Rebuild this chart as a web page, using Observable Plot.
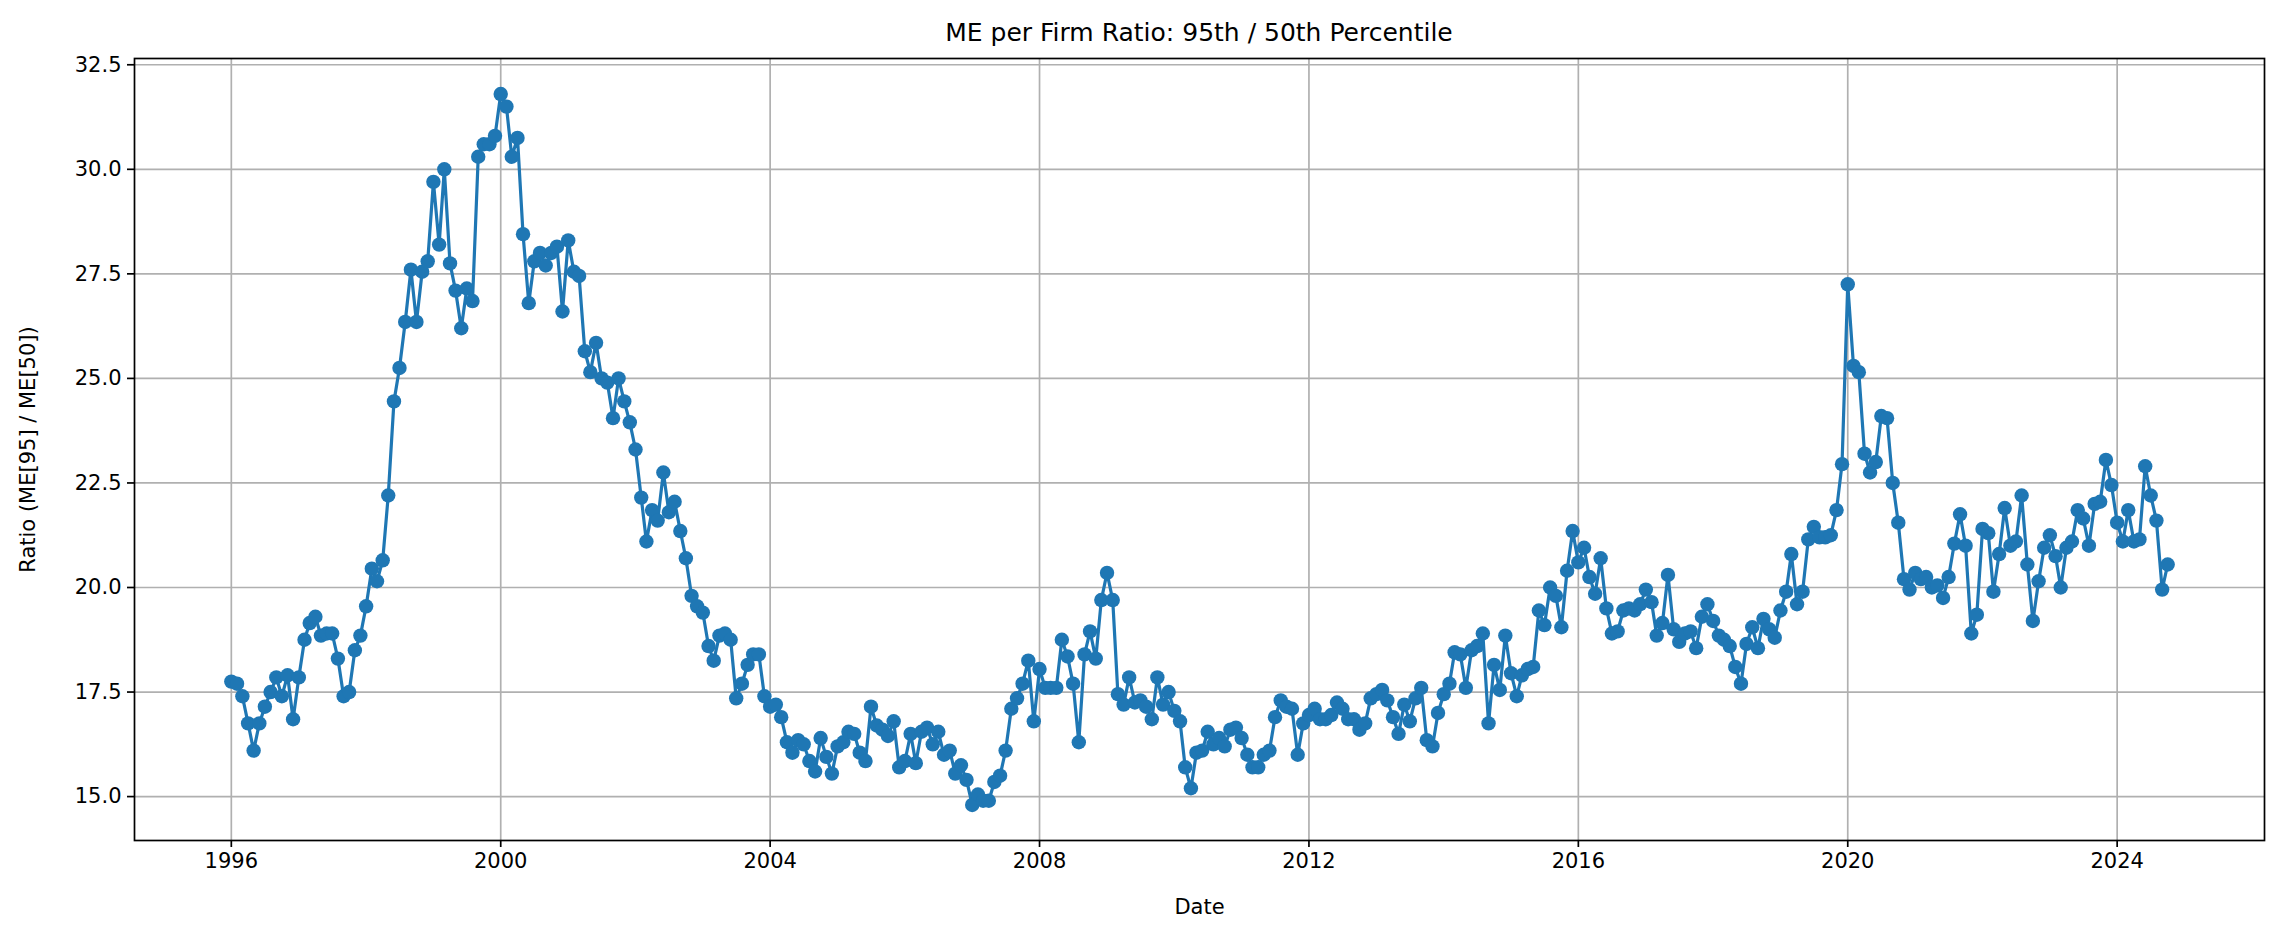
<!DOCTYPE html>
<html><head><meta charset="utf-8">
<script src="https://cdn.jsdelivr.net/npm/d3@7"></script>
<script src="https://cdn.jsdelivr.net/npm/@observablehq/plot@0.6"></script>
<style>
body{margin:0;background:#fff;font-family:"DejaVu Sans",sans-serif;}
#title{width:2284px;height:46px;box-sizing:border-box;padding:20px 20px 0 134px;text-align:center;font-size:25px;line-height:25px;color:#000;}
#chart svg{display:block;}
</style></head><body>
<div id="title">ME per Firm Ratio: 95th / 50th Percentile</div>
<div id="chart"></div>
<script>
const title = "ME per Firm Ratio: 95th / 50th Percentile";
const xLabel = "Date";
const yLabel = "Ratio (ME[95] / ME[50])";
const firstYear = 1996;
const xTickYears = [1996, 2000, 2004, 2008, 2012, 2016, 2020, 2024];
const yTicks = [15.0, 17.5, 20.0, 22.5, 25.0, 27.5, 30.0, 32.5];

const r1996 = [17.75, 17.7, 17.4, 16.75, 16.1, 16.75, 17.15, 17.5, 17.85, 17.4, 17.9, 16.85];
const r1997 = [17.85, 18.75, 19.15, 19.3, 18.85, 18.9, 18.9, 18.3, 17.4, 17.5, 18.5, 18.85];
const r1998 = [19.55, 20.45, 20.15, 20.65, 22.2, 24.45, 25.25, 26.35, 27.6, 26.35, 27.55, 27.8];
const r1999 = [29.7, 28.2, 30.0, 27.75, 27.1, 26.2, 27.15, 26.85, 30.3, 30.6, 30.6, 30.8];
const r2000 = [31.8, 31.5, 30.3, 30.75, 28.45, 26.8, 27.8, 28.0, 27.7, 28.0, 28.15, 26.6];
const r2001 = [28.3, 27.55, 27.45, 25.65, 25.15, 25.85, 25.0, 24.9, 24.05, 25.0, 24.45, 23.95];
const r2002 = [23.3, 22.15, 21.1, 21.85, 21.6, 22.75, 21.8, 22.05, 21.35, 20.7, 19.8, 19.55];
const r2003 = [19.4, 18.6, 18.25, 18.85, 18.9, 18.75, 17.35, 17.7, 18.15, 18.4, 18.4, 17.4];
const r2004 = [17.15, 17.2, 16.9, 16.3, 16.05, 16.35, 16.25, 15.85, 15.6, 16.4, 15.95, 15.55];
const r2005 = [16.2, 16.3, 16.55, 16.5, 16.05, 15.85, 17.15, 16.7, 16.6, 16.45, 16.8, 15.7];
const r2006 = [15.85, 16.5, 15.8, 16.55, 16.65, 16.25, 16.55, 16.0, 16.1, 15.55, 15.75, 15.4];
const r2007 = [14.8, 15.05, 14.9, 14.9, 15.35, 15.5, 16.1, 17.1, 17.35, 17.7, 18.25, 16.8];
const r2008 = [18.05, 17.6, 17.6, 17.6, 18.75, 18.35, 17.7, 16.3, 18.4, 18.95, 18.3, 19.7];
const r2009 = [20.35, 19.7, 17.45, 17.2, 17.85, 17.25, 17.3, 17.15, 16.85, 17.85, 17.2, 17.5];
const r2010 = [17.05, 16.8, 15.7, 15.2, 16.05, 16.1, 16.55, 16.25, 16.4, 16.2, 16.6, 16.65];
const r2011 = [16.4, 16.0, 15.7, 15.7, 16.0, 16.1, 16.9, 17.3, 17.15, 17.1, 16.0, 16.75];
const r2012 = [16.95, 17.1, 16.85, 16.85, 16.95, 17.25, 17.1, 16.85, 16.85, 16.6, 16.75, 17.35];
const r2013 = [17.45, 17.55, 17.3, 16.9, 16.5, 17.2, 16.8, 17.35, 17.6, 16.35, 16.2, 17.0];
const r2014 = [17.45, 17.7, 18.45, 18.4, 17.6, 18.5, 18.6, 18.9, 16.75, 18.15, 17.55, 18.85];
const r2015 = [17.95, 17.4, 17.9, 18.05, 18.1, 19.45, 19.1, 20.0, 19.8, 19.05, 20.4, 21.35];
const r2016 = [20.6, 20.95, 20.25, 19.85, 20.7, 19.5, 18.9, 18.95, 19.45, 19.5, 19.45, 19.6];
const r2017 = [19.95, 19.65, 18.85, 19.15, 20.3, 19.0, 18.7, 18.9, 18.95, 18.55, 19.3, 19.6];
const r2018 = [19.2, 18.85, 18.75, 18.6, 18.1, 17.7, 18.65, 19.05, 18.55, 19.25, 19.0, 18.8];
const r2019 = [19.45, 19.9, 20.8, 19.6, 19.9, 21.15, 21.45, 21.2, 21.2, 21.25, 21.85, 22.95];
const r2020 = [27.25, 25.3, 25.15, 23.2, 22.75, 23.0, 24.1, 24.05, 22.5, 21.55, 20.2, 19.95];
const r2021 = [20.35, 20.2, 20.25, 20.0, 20.05, 19.75, 20.25, 21.05, 21.75, 21.0, 18.9, 19.35];
const r2022 = [21.4, 21.3, 19.9, 20.8, 21.9, 21.0, 21.1, 22.2, 20.55, 19.2, 20.15, 20.95];
const r2023 = [21.25, 20.75, 20.0, 20.95, 21.1, 21.85, 21.65, 21.0, 22.0, 22.05, 23.05, 22.45];
const r2024 = [21.55, 21.1, 21.85, 21.1, 21.15, 22.9, 22.2, 21.6, 19.95, 20.55];

const years = [r1996, r1997, r1998, r1999, r2000, r2001, r2002, r2003, r2004, r2005,
  r2006, r2007, r2008, r2009, r2010, r2011, r2012, r2013, r2014, r2015,
  r2016, r2017, r2018, r2019, r2020, r2021, r2022, r2023, r2024];

const data = [];
years.forEach((vals, i) => vals.forEach((v, m) => data.push({date: new Date(Date.UTC(firstYear + i, m, 1)), ratio: v})));

const t0 = +data[0].date, t1 = +data[data.length - 1].date;
const padX = (t1 - t0) * 0.05;
const vMin = d3.min(data, d => d.ratio), vMax = d3.max(data, d => d.ratio);
const padY = (vMax - vMin) * 0.05;

const W = 2284, H = 894;
const blue = "#1f77b4";
const xTicks = xTickYears.map(y => new Date(Date.UTC(y, 0, 1)));
const chart = Plot.plot({
  width: W, height: H,
  marginLeft: 134, marginRight: 20, marginTop: 12, marginBottom: 100,
  style: {fontFamily: "'DejaVu Sans', sans-serif", fontSize: "21px", color: "#000", background: "#fff"},
  x: {type: "utc", domain: [new Date(t0 - padX), new Date(t1 + padX)]},
  y: {domain: [vMin - padY, vMax + padY]},
  marks: [
    Plot.gridX(xTicks, {stroke: "#b0b0b0", strokeOpacity: 1, strokeWidth: 1.7}),
    Plot.gridY(yTicks, {stroke: "#b0b0b0", strokeOpacity: 1, strokeWidth: 1.7}),
    Plot.line(data, {x: "date", y: "ratio", stroke: blue, strokeWidth: 3.2}),
    Plot.dot(data, {x: "date", y: "ratio", fill: blue, r: 7.2, stroke: "none"}),
    Plot.axisX({ticks: xTicks, tickFormat: d3.utcFormat("%Y"), tickSize: 7, tickPadding: 6, strokeWidth: 1.7, fontSize: 21, label: xLabel, labelAnchor: "center", labelArrow: "none", labelOffset: 73}),
    Plot.axisY({ticks: yTicks, tickFormat: d3.format(".1f"), tickSize: 7, tickPadding: 6, strokeWidth: 1.7, fontSize: 21, label: yLabel, labelAnchor: "center", labelArrow: "none", labelOffset: 114}),
    Plot.frame({stroke: "#000", strokeWidth: 1.7})
  ]
});
document.getElementById("chart").appendChild(chart);
</script>
</body></html>
